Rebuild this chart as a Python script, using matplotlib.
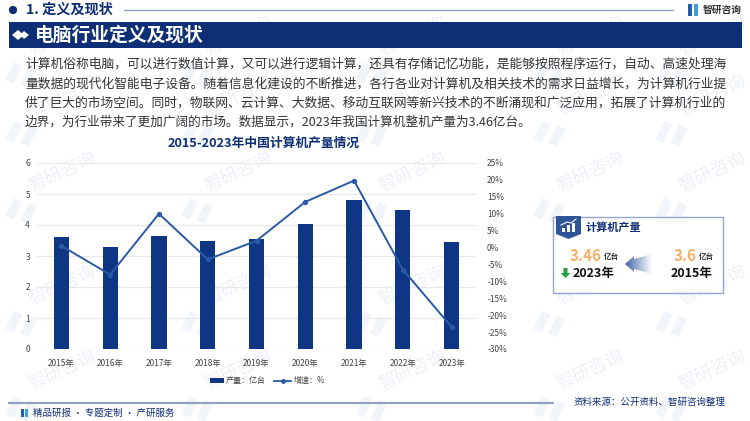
import numpy as np
import matplotlib
matplotlib.use("Agg")
import matplotlib.pyplot as plt
from matplotlib.patches import Rectangle, Polygon, Circle, FancyArrow

plt.rcParams['font.family'] = ['Noto Sans CJK SC', 'DejaVu Sans']

years = ["2015年", "2016年", "2017年", "2018年", "2019年", "2020年", "2021年", "2022年", "2023年"]
output = [3.6, 3.28, 3.63, 3.5, 3.55, 4.03, 4.82, 4.5, 3.46]
growth = [0.5, -8, 10, -3.5, 2, 13.5, 19.8, -6.5, -23.5]
left_ticks = [0, 1, 2, 3, 4, 5, 6]
right_ticks = [-30, -25, -20, -15, -10, -5, 0, 5, 10, 15, 20, 25]
body_lines = [
    "计算机俗称电脑，可以进行数值计算，又可以进行逻辑计算，还具有存储记忆功能，是能够按照程序运行，自动、高速处理海",
    "量数据的现代化智能电子设备。随着信息化建设的不断推进，各行各业对计算机及相关技术的需求日益增长，为计算机行业提",
    "供了巨大的市场空间。同时，物联网、云计算、大数据、移动互联网等新兴技术的不断涌现和广泛应用，拓展了计算机行业的",
    "边界，为行业带来了更加广阔的市场。数据显示，2023年我国计算机整机产量为3.46亿台。",
]

W, H = 750, 421
navy = "#0e2e76"
bar_blue = "#0f3685"
line_blue = "#2a5aa5"
orange = "#f6b26b"

fig = plt.figure(figsize=(W / 100, H / 100), dpi=100, facecolor="white")

# pixel canvas for everything around the chart
bg = fig.add_axes([0, 0, 1, 1], zorder=0)
bg.set_xlim(0, W)
bg.set_ylim(H, 0)
bg.axis("off")

# watermarks sit under everything else
for wy in [36, 95, 172, 285, 370]:
    for wx in [62, 238, 412, 590, 712]:
        bg.text(wx, wy, "智研咨询", color="#edf0f6", fontsize=13, rotation=25,
                ha="center", va="center", zorder=0.2)
        bg.add_patch(Rectangle((wx - 48, wy + 26), 9, 20, angle=25, color="#f1f5fa", lw=0, zorder=0.1))
        bg.add_patch(Rectangle((wx - 33, wy + 30), 9, 20, angle=25, color="#f1f5fa", lw=0, zorder=0.1))

# header
bg.add_patch(Circle((13, 10), 3.4, color=navy))
bg.text(26, 10, "1. 定义及现状", fontsize=10.2, fontweight="bold", color=navy, va="center")
bg.plot([124, 673], [9.5, 9.5], color="#8f9fc4", lw=1)
bg.add_patch(Rectangle((688, 4), 4, 12, color="#1f5fae", lw=0))
bg.add_patch(Rectangle((694, 4), 4, 12, color="#39a0dc", lw=0))
bg.text(703, 10, "智研咨询", fontsize=7, fontweight="bold", color="#333333", va="center")

# title band
bg.add_patch(Rectangle((9, 22), 733, 26, color=navy, lw=0))
bg.add_patch(Polygon([(12, 35), (18, 30), (24, 35), (18, 40)], color="white", lw=0))
bg.add_patch(Polygon([(20, 35), (24, 31), (29, 35), (24, 39)], color="white", lw=0))
bg.text(35, 35, "电脑行业定义及现状", fontsize=13.5, fontweight="bold", color="white", va="center")

# body text
for text, y, size in zip(body_lines, [64, 84, 103, 122], [9.2, 9.2, 9.2, 9.05]):
    bg.text(25, y, text, fontsize=size, color="#333333", va="center")

# chart title and legend
bg.text(264, 143.5, "2015-2023年中国计算机产量情况", fontsize=9.2, fontweight="bold", color=navy,
        ha="center", va="center")
bg.add_patch(Rectangle((210, 378), 14, 5, color=bar_blue, lw=0))
bg.text(226, 380.5, "产量：亿台", fontsize=5.8, color="#444444", va="center")
bg.plot([274, 291], [380.5, 380.5], color=line_blue, lw=1.3)
bg.plot([282.5], [380.5], "o", ms=2.5, color=line_blue)
bg.text(294, 380.5, "增速：%", fontsize=5.8, color="#444444", va="center")

# side card
bg.add_patch(Rectangle((553, 217), 170, 76, fc="white", ec="#8096c4", lw=1, alpha=0.85))
bg.add_patch(Polygon([(556, 216), (581, 216), (581, 234), (568.5, 239), (556, 234)], color="#2f5597", lw=0))
for bx, bh in zip([562, 567, 572], [4, 7, 9]):
    bg.add_patch(Rectangle((bx, 232 - bh), 3, bh, color="white", lw=0))
bg.plot([561, 567, 571, 576], [225, 222, 223, 219], color="white", lw=0.8)
bg.text(586, 227.5, "计算机产量", fontsize=8, fontweight="bold", color=navy, va="center")
bg.text(570, 256, "3.46", fontsize=11, fontweight="bold", color=orange, va="center")
bg.text(604, 256.5, "亿台", fontsize=5.5, fontweight="bold", color="#333333", va="center")
bg.text(674, 256, "3.6", fontsize=11, fontweight="bold", color=orange, va="center")
bg.text(699, 256.5, "亿台", fontsize=5.5, fontweight="bold", color="#333333", va="center")
bg.add_patch(FancyArrow(565.5, 268, 0, 10, width=4, head_width=10, head_length=5,
                        length_includes_head=True, color="#1fa33c", lw=0))
bg.text(573, 273, "2023年", fontsize=9, fontweight="bold", color="#111111", va="center")
bg.text(671, 273, "2015年", fontsize=9, fontweight="bold", color="#111111", va="center")

# fading arrow between the two years
fade = np.ones((1, 60, 4))
fade[..., :3] = matplotlib.colors.to_rgb("#3f63a8")
fade[..., 3] = np.linspace(1, 0, 60)
arrow_img = bg.imshow(fade, extent=(625, 652, 274, 254), aspect="auto", zorder=2)
arrow_shape = Polygon([(625, 264), (634, 256), (634, 259), (652, 254), (652, 274), (634, 269), (634, 272)],
                      transform=bg.transData, fc="none", ec="none")
bg.add_patch(arrow_shape)
arrow_img.set_clip_path(arrow_shape)
bg.set_xlim(0, W)
bg.set_ylim(H, 0)

# footer
bg.plot([9, 553], [402.5, 402.5], color="#8f9fc4", lw=1.5)
bg.add_patch(Rectangle((21, 409), 3, 8, color="#1f5fae", lw=0))
bg.add_patch(Rectangle((25, 409), 3, 8, color="#39a0dc", lw=0))
bg.text(33, 413, "精品研报 · 专题定制 · 产研服务", fontsize=6.8, color=navy, va="center")
bg.text(574, 402, "资料来源：公开资料、智研咨询整理", fontsize=6.8, color=navy, va="center")

# chart
ax = fig.add_axes([37 / W, 1 - 349 / H, 439 / W, 186 / H], zorder=2)
ax.patch.set_alpha(0)
x = np.arange(len(years))
ax.bar(x, output, width=0.31, color=bar_blue, zorder=3)
ax.set_xlim(-0.5, len(years) - 0.5)
ax.set_ylim(0, 6)
ax.set_yticks(left_ticks)
ax.set_xticks(x, years)
ax.grid(axis="y", color="#e8e8e8", lw=0.9, zorder=0)
ax.tick_params(axis="both", length=0, labelsize=6, labelcolor="#444444")
ax.tick_params(axis="x", pad=7)
ax.tick_params(axis="y", pad=5)
for s in ax.spines.values():
    s.set_visible(False)

ax2 = ax.twinx()
ax2.patch.set_alpha(0)
ax2.plot(x, growth, color=line_blue, lw=1.4, marker="o", ms=2.8, zorder=4)
ax2.set_ylim(-30, 25)
ax2.set_yticks(right_ticks, [f"{t}%" for t in right_ticks])
ax2.tick_params(axis="y", length=0, labelsize=6, labelcolor="#444444", pad=8)
for s in ax2.spines.values():
    s.set_visible(False)

fig.savefig("out.png", dpi=100)
